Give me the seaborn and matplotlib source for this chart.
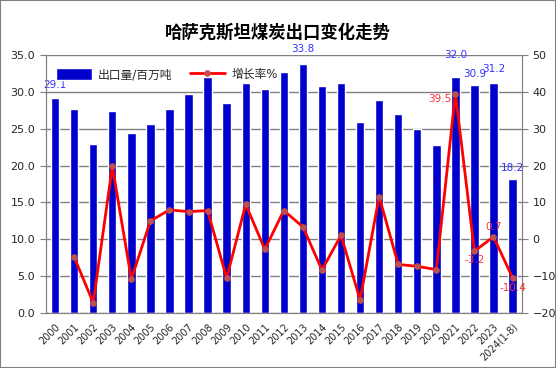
import numpy as np
import pandas as pd
import matplotlib
matplotlib.use("Agg")
import matplotlib.pyplot as plt
import seaborn as sns
from matplotlib.patches import Rectangle

years = ["2000", "2001", "2002", "2003", "2004", "2005", "2006", "2007", "2008",
         "2009", "2010", "2011", "2012", "2013", "2014", "2015", "2016", "2017",
         "2018", "2019", "2020", "2021", "2022", "2023", "2024(1-8)"]
export_mt = [29.1, 27.7, 22.9, 27.4, 24.4, 25.6, 27.7, 29.7, 32.0, 28.5, 31.2, 30.4,
             32.7, 33.8, 30.8, 31.2, 25.9, 28.9, 27.0, 24.9, 22.8, 32.0, 30.9, 31.2, 18.2]
growth_pct = [np.nan, -4.8, -17.2, 19.8, -10.8, 5.0, 8.0, 7.5, 7.8, -10.5, 9.5, -2.7,
              7.8, 3.4, -8.3, 1.1, -16.4, 11.6, -6.8, -7.3, -8.2, 39.5, -3.2, 0.7, -10.4]

# which values get a text label
bar_labels = {0: (0, 8), 13: (0, 10), 21: (0, 17), 22: (0, 6), 23: (0, 9), 24: (0, 6)}
line_labels = {21: (-16, -5), 22: (0, -9), 23: (0, 10), 24: (0, -10)}

sns.set_style("white")
plt.rcParams["font.family"] = ["DejaVu Sans", "Noto Sans CJK SC"]

df = pd.DataFrame({"year": years, "export": export_mt, "growth": growth_pct})
df["pos"] = np.arange(len(df))

fig, ax = plt.subplots(figsize=(5.56, 3.68), dpi=100)
fig.subplots_adjust(left=0.082, right=0.939, top=0.851, bottom=0.149)

sns.barplot(data=df, x="year", y="export", color="#0000CC", saturation=1,
            width=0.44, ax=ax, label="出口量/百万吨")
ax.set_xlim(-0.5, len(df) - 0.5)
ax.set_ylim(0, 35)
ax.set_yticks(np.arange(0, 35.1, 5))
ax.set_yticklabels([f"{v:.1f}" for v in np.arange(0, 35.1, 5)])
ax.grid(axis="y", color="#808080", linewidth=1)
ax.set_axisbelow(True)
ax.set_xlabel("")
ax.set_ylabel("")

ax.set_xticks(df["pos"])
ax.set_xticklabels(years, rotation=45, ha="right", va="top", rotation_mode="anchor", fontsize=7)
ax.set_xticks(np.arange(-0.5, len(df), 1), minor=True)
ax.tick_params(axis="x", which="major", length=0, pad=6)
ax.tick_params(axis="x", which="minor", length=4, color="#808080", direction="out")
ax.tick_params(axis="y", length=4, color="#808080", direction="out", labelsize=8)
ax.yaxis.set_ticks_position("left")

for i, (dx, dy) in bar_labels.items():
    ax.annotate(f"{export_mt[i]:.1f}", (i, export_mt[i]), xytext=(dx, dy),
                textcoords="offset pixels", ha="center", va="bottom",
                color="#3333FF", fontsize=7.5)

ax2 = ax.twinx()
sns.lineplot(data=df, x="pos", y="growth", color="#FF0000", linewidth=2, marker="o",
             markersize=4, markerfacecolor="#C0504D", markeredgecolor="#C0504D",
             sort=False, ax=ax2, label="增长率%")
ax2.set_ylim(-20, 50)
ax2.set_yticks(np.arange(-20, 51, 10))
ax2.set_ylabel("")
ax2.set_xlabel("")
ax2.tick_params(axis="y", length=4, color="#808080", direction="out", labelsize=8)
ax2.set_xlim(-0.5, len(df) - 0.5)

for i, (dx, dy) in line_labels.items():
    ax2.annotate(f"{growth_pct[i]:.1f}", (i, growth_pct[i]), xytext=(dx, dy),
                 textcoords="offset pixels", ha="center", va="center",
                 color="#FF3333", fontsize=7.5)

for a in (ax, ax2):
    for side in ("left", "right", "bottom"):
        a.spines[side].set_color("#808080")
    a.spines["top"].set_visible(False)

h1, l1 = ax.get_legend_handles_labels()
h2, l2 = ax2.get_legend_handles_labels()
if ax.get_legend():
    ax.get_legend().remove()
ax2.legend(h1 + h2, l1 + l2, loc="upper left", ncol=2, frameon=False, fontsize=8.5,
           bbox_to_anchor=(0.0, 0.99), handlelength=3, handleheight=1.1,
           columnspacing=1.5, handletextpad=0.5)

fig.suptitle("哈萨克斯坦煤炭出口变化走势", fontsize=12.5, fontweight="bold",
             family=["Noto Sans CJK SC"], color="black", y=0.935)
fig.patches.append(Rectangle((0, 0), 1, 1, transform=fig.transFigure, fill=False,
                             edgecolor="#808080", linewidth=1.5))

fig.savefig("out.png", dpi=100)
